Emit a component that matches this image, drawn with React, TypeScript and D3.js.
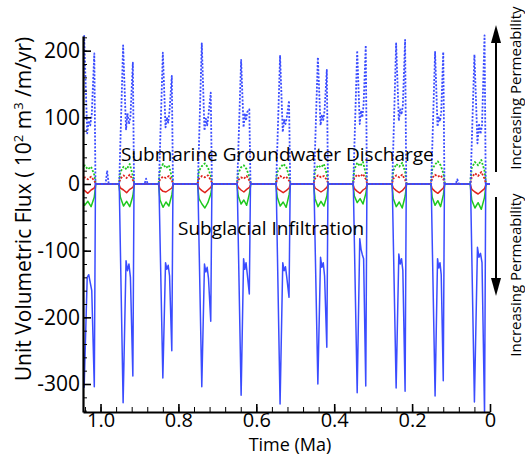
import React, { useRef, useEffect } from "react";
import * as d3 from "d3";

const W = 525;
const H = 456;
const plot = { left: 83, right: 490, top: 36, bottom: 412 };

// time of first and second infiltration peak in each glacial pulse (Ma)
const pulseA = [1.042, 0.942, 0.840, 0.740, 0.639, 0.539, 0.442, 0.341, 0.241, 0.141, 0.040];
const pulseB = [1.016, 0.917, 0.817, 0.717, 0.618, 0.516, 0.419, 0.319, 0.218, 0.120, 0.014];

// high permeability case (blue): infiltration (solid) and SGD (dotted)
const blueInfDeep1 = [-305, -328, -291, -304, -317, -330, -300, -313, -306, -318, -327];
const blueInfDeep2 = [-304, -288, -250, -206, -165, -170, -245, -303, -311, -295, -345];
const blueInfMid = [
  [-140, -136, -148, -160],
  [-115, -130, -120, -140],
  [-118, -128, -122, -138],
  [-120, -132, -125, -142],
  [-112, -128, -118, -135],
  [-118, -130, -124, -140],
  [-110, -125, -118, -138],
  [-82, -98, -106, -112],
  [-105, -120, -112, -130],
  [-112, -126, -118, -136],
  [-95, -110, -104, -118],
];
const blueSgdPeak1 = [222, 208, 197, 211, 186, 192, 190, 200, 211, 198, 194];
const blueSgdPeak2 = [196, 182, 162, 137, 112, 125, 171, 208, 216, 198, 223];
const blueSgdMid = [
  [76, 95, 88, 105],
  [82, 106, 90, 100],
  [85, 100, 92, 110],
  [80, 98, 88, 104],
  [85, 106, 95, 108],
  [78, 96, 90, 100],
  [88, 104, 96, 110],
  [90, 110, 100, 120],
  [95, 112, 104, 118],
  [86, 100, 94, 108],
  [61, 91, 75, 88],
];
// small discharge blips between pulses [time, value]
const blueSgdBlips = [
  [0.983, 20],
  [0.883, 8],
  [0.084, 7],
];

// medium permeability (green)
const greenSgd = [
  [20, 28, 22, 26, 14],
  [18, 26, 22, 30, 12],
  [22, 30, 24, 28, 10],
  [20, 27, 31, 25, 12],
  [16, 25, 28, 22, 10],
  [18, 24, 30, 26, 12],
  [20, 28, 25, 30, 14],
  [22, 32, 27, 33, 15],
  [20, 30, 26, 32, 18],
  [22, 29, 34, 28, 16],
  [24, 33, 28, 36, 20],
];
const greenInf = [
  [-22, -32, -26, -34, -20],
  [-20, -33, -26, -34, -18],
  [-24, -35, -27, -33, -16],
  [-22, -30, -36, -28, -15],
  [-18, -30, -24, -32, -14],
  [-20, -33, -27, -35, -16],
  [-22, -34, -26, -33, -18],
  [-18, -28, -22, -30, -14],
  [-22, -34, -27, -36, -18],
  [-20, -32, -25, -34, -16],
  [-24, -36, -28, -38, -20],
];

// low permeability (red)
const redSgd = [
  [6, 10, 7, 11, 5],
  [8, 13, 9, 14, 6],
  [7, 11, 9, 12, 5],
  [8, 12, 10, 13, 6],
  [6, 10, 8, 12, 5],
  [7, 12, 9, 11, 5],
  [8, 13, 10, 12, 6],
  [9, 14, 11, 15, 7],
  [8, 13, 10, 14, 6],
  [9, 14, 11, 13, 7],
  [10, 16, 12, 18, 8],
];
const redInf = [
  [-7, -10, -14, -9, -6],
  [-6, -9, -13, -8, -5],
  [-7, -11, -12, -9, -6],
  [-6, -10, -13, -9, -5],
  [-5, -9, -12, -8, -5],
  [-7, -10, -13, -10, -6],
  [-6, -9, -12, -9, -5],
  [-7, -11, -14, -9, -6],
  [-6, -10, -13, -10, -5],
  [-7, -11, -14, -10, -6],
  [-8, -12, -15, -11, -7],
];

const yMajor = [200, 100, 0, -100, -200, -300];
const xMajor = [1.0, 0.8, 0.6, 0.4, 0.2, 0];

const midFrac = [0.3, 0.45, 0.6, 0.75];
const smallFrac = [0.1, 0.3, 0.5, 0.7, 0.9];

const bluePulse = (i: number, p1: number, mids: number[], p2: number) => {
  const a = pulseA[i];
  const b = pulseB[i];
  const span = a - b;
  return [
    [a + 0.01, 0],
    [a, p1],
    ...mids.map((v, j) => [a - midFrac[j] * span, v]),
    [b, p2],
    [b - 0.003, 0],
  ];
};

const smallPulse = (i: number, vals: number[]) => {
  const a = pulseA[i] + 0.011;
  const b = pulseB[i] - 0.004;
  return [[a, 0], ...vals.map((v, j) => [a - smallFrac[j] * (a - b), v]), [b, 0]];
};

const series = (pulses: number[][][], extra: number[][] = []) =>
  [[1.08, 0], ...pulses.flat(), ...extra, [0, 0]].sort((p, q) => q[0] - p[0]);

const blueInfLine = series(pulseA.map((_, i) => bluePulse(i, blueInfDeep1[i], blueInfMid[i], blueInfDeep2[i])));
const blueSgdLine = series(
  pulseA.map((_, i) => bluePulse(i, blueSgdPeak1[i], blueSgdMid[i], blueSgdPeak2[i])),
  blueSgdBlips.flatMap(([t, v]) => [[t + 0.004, 0], [t, v], [t - 0.004, 0]])
);
const greenSgdLine = series(greenSgd.map((v, i) => smallPulse(i, v)));
const greenInfLine = series(greenInf.map((v, i) => smallPulse(i, v)));
const redSgdLine = series(redSgd.map((v, i) => smallPulse(i, v)));
const redInfLine = series(redInf.map((v, i) => smallPulse(i, v)));

const BLUE = "#3a4cff";
const GREEN = "#1ec81e";
const RED = "#e0231c";
const FONT = "'Open Sans', sans-serif";

const App = () => {
  const axRef = useRef<SVGGElement>(null);

  const x = d3.scaleLinear().domain([1.045, 0]).range([plot.left, plot.right]);
  const y = d3.scaleLinear().domain([-342, 222]).range([plot.bottom, plot.top]);
  const line = d3
    .line<number[]>()
    .x((d) => x(d[0]))
    .y((d) => y(d[1]));

  useEffect(() => {
    const g = d3.select(axRef.current);
    g.selectAll("*").remove();

    // minor ticks
    g.append("g")
      .attr("transform", `translate(${plot.left},0)`)
      .call(d3.axisLeft(y).tickValues(d3.range(-340, 221, 20)).tickSize(-4).tickFormat(() => ""))
      .call((a) => a.select(".domain").remove());
    g.append("g")
      .attr("transform", `translate(0,${plot.bottom})`)
      .call(d3.axisBottom(x).tickValues(d3.range(0, 1.041, 0.04)).tickSize(-5).tickFormat(() => ""))
      .call((a) => a.select(".domain").remove());

    const yAx = g
      .append("g")
      .attr("transform", `translate(${plot.left},0)`)
      .call(
        d3
          .axisLeft(y)
          .tickValues(yMajor)
          .tickSize(-8)
          .tickSizeOuter(0)
          .tickPadding(3)
          .tickFormat((d) => String(d))
      );
    const xAx = g
      .append("g")
      .attr("transform", `translate(0,${plot.bottom})`)
      .call(
        d3
          .axisBottom(x)
          .tickValues(xMajor)
          .tickSize(-8)
          .tickSizeOuter(0)
          .tickPadding(1)
          .tickFormat((d) => (+d === 0 ? "0" : d3.format(".1f")(+d)))
      );

    yAx.attr("font-size", 21);
    xAx.attr("font-size", 20);
    [yAx, xAx].forEach((a) => {
      a.attr("font-family", FONT);
      a.selectAll(".tick line").attr("stroke-width", 1.6);
      a.select(".domain").attr("stroke-width", 2.2);
      a.selectAll("text").attr("fill", "#000");
    });
    g.selectAll("line").attr("stroke", "#000");
  }, []);

  return (
    <svg width={W} height={H} style={{ position: "absolute", left: 0, top: 0, background: "#fff" }}>
      <defs>
        <clipPath id="plotClip">
          <rect x={plot.left} y={plot.top - 6} width={plot.right - plot.left} height={plot.bottom - plot.top + 6} />
        </clipPath>
      </defs>

      <g clipPath="url(#plotClip)" fill="none" strokeLinejoin="round">
        <path d={line(greenSgdLine) ?? ""} stroke={GREEN} strokeWidth={1.8} strokeDasharray="2,1.6" />
        <path d={line(greenInfLine) ?? ""} stroke={GREEN} strokeWidth={1.5} />
        <path d={line(redSgdLine) ?? ""} stroke={RED} strokeWidth={1.8} strokeDasharray="2,1.6" />
        <path d={line(redInfLine) ?? ""} stroke={RED} strokeWidth={1.5} />
        <path d={line(blueSgdLine) ?? ""} stroke={BLUE} strokeWidth={1.8} strokeDasharray="2,1.6" />
        <path d={line(blueInfLine) ?? ""} stroke={BLUE} strokeWidth={1.5} />
      </g>

      <g ref={axRef} />

      <g fontFamily={FONT} fill="#000">
        <text x={121} y={161} fontSize={19}>
          Submarine Groundwater Discharge
        </text>
        <text x={178} y={235} fontSize={19}>
          Subglacial Infiltration
        </text>
        <text x={290} y={451} fontSize={18} textAnchor="middle">
          Time (Ma)
        </text>
        <text transform="translate(31,209) rotate(-90)" fontSize={21} textAnchor="middle">
          Unit Volumetric Flux ( 10
          <tspan dy={-8} fontSize={13}>
            2
          </tspan>
          <tspan dy={8}> m</tspan>
          <tspan dy={-8} fontSize={13}>
            3
          </tspan>
          <tspan dy={8}> /m/yr)</tspan>
        </text>
        <text transform="translate(521,88) rotate(-90)" fontSize={15} textAnchor="middle">
          Increasing Permeability
        </text>
        <text transform="translate(521,275) rotate(-90)" fontSize={15} textAnchor="middle">
          Increasing Permeability
        </text>
      </g>

      <g stroke="#000" strokeWidth={2}>
        <line x1={496} x2={496} y1={172} y2={38} />
        <line x1={496} x2={496} y1={197} y2={282} />
      </g>
      <path d="M496,25 L491,43 L501,43 Z" fill="#000" />
      <path d="M496,296 L491,278 L501,278 Z" fill="#000" />
    </svg>
  );
};

export default App;
